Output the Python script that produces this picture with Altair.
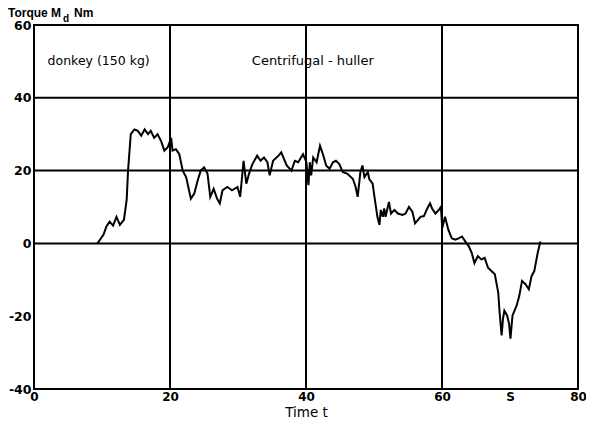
import altair as alt
import pandas as pd

# Time t (s) and torque Md (Nm)
t_vals = [9.33, 10.23, 10.63, 11.13, 11.63, 12.13, 12.63, 13.23, 13.63, 13.83, 14.23,
          14.77, 15.27, 15.77, 16.27, 16.77, 17.17, 17.67, 18.17, 18.67, 19.17, 19.67, 20.17,
          20.37, 20.87, 21.37, 21.87, 22.37, 23.07, 23.57, 24.07,
          24.52, 25.02, 25.52, 25.92, 26.42, 26.92, 27.32, 27.72, 28.42, 29.12, 29.92, 30.32,
          30.82, 31.22, 31.62, 32.12, 32.82, 33.32, 33.82, 34.32,
          34.66, 35.16, 35.96, 36.36, 37.16, 37.86, 38.36, 38.86, 39.56, 40.06, 40.36, 40.56,
          40.76, 41.06, 41.56, 42.06, 42.56, 42.96, 43.46, 43.96,
          44.40, 44.90, 45.40, 46.10, 46.90, 47.30, 47.60, 48.00, 48.30, 48.60, 49.10, 49.30,
          49.80, 50.00, 50.50, 50.80, 51.00, 51.30, 51.50, 51.70, 52.20, 52.50, 53.00, 53.50, 54.20,
          54.64, 55.14, 55.64, 56.04, 56.84, 57.34, 57.84, 58.24, 58.54, 59.04, 59.54, 59.84,
          60.04, 60.44, 60.94, 61.44, 61.94, 62.44, 62.94, 63.44, 63.94,
          64.37, 64.77, 65.27, 65.77, 66.27, 66.77, 67.27, 67.77, 68.27, 68.47, 68.77, 68.97,
          69.17, 69.57, 69.87, 70.07, 70.37, 70.97, 71.37, 71.77, 72.27, 72.77, 73.17, 73.57,
          74.07, 74.47]
md_vals = [0.0, 2.4, 4.6, 6.0, 4.9, 7.3, 5.1, 6.5, 12.0, 20.0, 30.0,
           31.3, 30.9, 29.6, 31.3, 30.0, 30.9, 29.0, 30.0, 28.2, 25.5, 26.4, 29.0,
           25.5, 25.9, 24.5, 20.0, 18.2, 12.3, 13.7, 17.3,
           20.0, 20.9, 19.1, 12.8, 15.0, 12.3, 11.0, 14.6, 15.5, 14.6, 15.5, 12.8,
           22.7, 16.4, 19.1, 21.8, 24.1, 22.7, 23.6, 22.3,
           18.7, 22.7, 24.1, 25.0, 21.4, 20.0, 22.7, 22.3, 24.5, 22.3, 16.0, 22.3,
           18.7, 23.6, 22.3, 26.8, 24.1, 21.4, 20.5, 22.3,
           22.7, 21.8, 19.6, 19.1, 17.7, 15.5, 12.8, 19.6, 21.4, 18.2, 19.6, 17.7,
           16.4, 13.7, 7.3, 5.1, 9.2, 7.3, 9.6, 7.3, 11.4, 8.2, 9.2, 8.2, 7.8,
           8.2, 10.0, 8.7, 5.5, 7.3, 7.5, 9.6, 11.0, 9.6, 8.2, 9.2, 10.0,
           4.2, 7.3, 3.7, 1.4, 1.0, 1.4, 1.9, 0.5, -0.8,
           -2.6, -5.4, -3.5, -4.4, -4.0, -6.7, -7.6, -8.5, -13.5, -18.9, -25.3, -20.7,
           -18.5, -19.8, -22.1, -26.2, -19.8, -17.1, -14.4, -10.3, -11.2, -12.6, -9.0, -7.6,
           -2.6, 0.5]

x_ticks = [0, 20, 40, 60, 70, 80]
y_ticks = [-40, -20, 0, 20, 40, 60]
grid_x = [20, 40, 60]
grid_y = [0, 20, 40]

ann_text = ["donkey (150 kg)", "Centrifugal - huller"]
ann_t = [2.0, 41.0]
ann_v = [50, 50]

curve = pd.DataFrame({"t": t_vals, "md": md_vals})
gx = pd.DataFrame({"t": grid_x})
gy = pd.DataFrame({"md": grid_y})
ann = pd.DataFrame({"text": ann_text, "t": ann_t, "md": ann_v})

SANS = "DejaVu Sans"
HELV = "Liberation Sans"

xscale = alt.Scale(domain=[0, 80], nice=False, zero=False)
yscale = alt.Scale(domain=[-40, 60], nice=False, zero=False)

base_x = alt.X("t:Q", scale=xscale,
               axis=alt.Axis(values=x_ticks, grid=False, ticks=False, domain=False,
                             labelExpr="datum.value == 70 ? 'S' : '' + datum.value",
                             labelFont=SANS, labelFontWeight="bold", labelFontSize=12,
                             labelColor="black", labelPadding=2, labelFlush=False,
                             title="Time t", titleFont=SANS, titleFontWeight="normal",
                             titleFontSize=13.5, titleColor="black",
                             titleBaseline="alphabetic", titleY=27))
base_y = alt.Y("md:Q", scale=yscale,
               axis=alt.Axis(values=y_ticks, grid=False, ticks=False, domain=False,
                             labelExpr="'' + datum.value",
                             labelFont=SANS, labelFontWeight="bold", labelFontSize=12.5,
                             labelColor="black", labelPadding=3, labelFlush=False,
                             title=None))

line = alt.Chart(curve).mark_line(color="black", strokeWidth=2).encode(x=base_x, y=base_y)

vrules = alt.Chart(gx).mark_rule(color="black", strokeWidth=2).encode(
    x=alt.X("t:Q", scale=xscale))
hrules = alt.Chart(gy).mark_rule(color="black", strokeWidth=2).encode(
    y=alt.Y("md:Q", scale=yscale))

ann1 = alt.Chart(ann.iloc[[0]]).mark_text(font=SANS, fontSize=12.5, align="left",
                                           baseline="middle", color="black").encode(
    x=alt.X("t:Q", scale=xscale), y=alt.Y("md:Q", scale=yscale), text="text:N")
ann2 = alt.Chart(ann.iloc[[1]]).mark_text(font=SANS, fontSize=13, align="center",
                                           baseline="middle", color="black").encode(
    x=alt.X("t:Q", scale=xscale), y=alt.Y("md:Q", scale=yscale), text="text:N")

one = alt.Data(values=[{"k": 1}])
title_main = alt.Chart(one).mark_text(font=HELV, fontSize=12, fontWeight="bold", align="left",
                                      baseline="alphabetic", color="black").encode(
    x=alt.value(-26), y=alt.value(-8), text=alt.value("Torque M"))
title_sub = alt.Chart(one).mark_text(font=HELV, fontSize=10, fontWeight="bold", align="left",
                                     baseline="alphabetic", color="black").encode(
    x=alt.value(29), y=alt.value(-3.5), text=alt.value("d"))
title_unit = alt.Chart(one).mark_text(font=HELV, fontSize=12, fontWeight="bold", align="left",
                                      baseline="alphabetic", color="black").encode(
    x=alt.value(40), y=alt.value(-8), text=alt.value("Nm"))

chart = alt.layer(hrules, vrules, line, ann1, ann2, title_main, title_sub, title_unit).properties(
    width=544, height=364,
    autosize=alt.AutoSizeParams(type="none"),
    padding={"left": 26, "top": 17, "right": 8, "bottom": 29},
    background="white",
).configure_view(stroke="black", strokeWidth=2)

chart.save("out.html", embed_options={"renderer": "svg", "actions": False})
